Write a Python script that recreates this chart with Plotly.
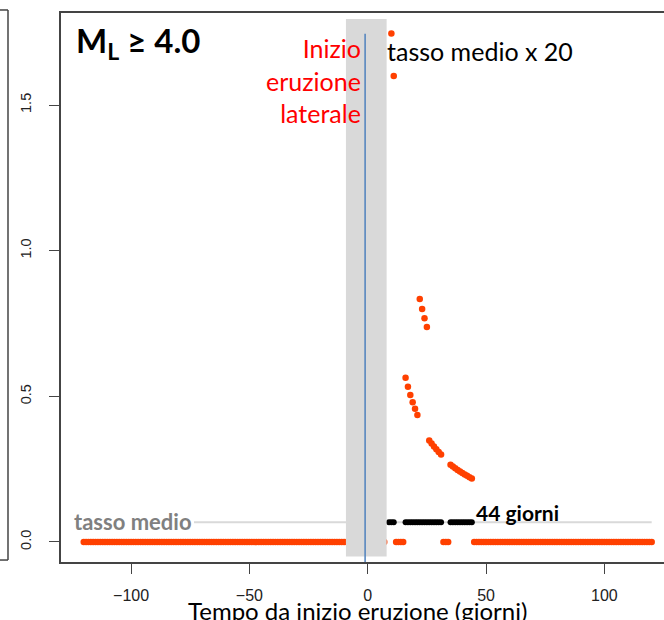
import numpy as np
import plotly.graph_objects as go

# Giorni rispetto all'inizio dell'eruzione laterale
days_all = list(range(-120, 121))

# Giorni con tasso elevato (sopra il tasso medio) e relativo tasso x 20
elev_days = [10, 11,
             16, 17, 18, 19, 20, 21,
             22, 23, 24, 25,
             26, 27, 28, 29, 30, 31,
             35, 36, 37, 38, 39, 40, 41, 42, 43, 44]
elev_rate = [1.746, 1.600,
             0.564, 0.533, 0.505, 0.480, 0.457, 0.436,
             0.834, 0.800, 0.768, 0.738,
             0.348, 0.338, 0.328, 0.318, 0.309, 0.300,
             0.265, 0.259, 0.253, 0.247, 0.242, 0.237, 0.232, 0.227, 0.222, 0.218]

# Giorni marcati in nero sulla linea del tasso medio
black_days = [9, 10, 11] + list(range(16, 32)) + list(range(35, 45))

# Giorni senza eventi (tasso nullo)
hidden_days = [8, 9]
zero_days = [d for d in days_all if d not in elev_days and d not in hidden_days]
zero_rate = [0.0] * len(zero_days)

mean_rate = 0.0676

# Assi
x_ticks = [-100, -50, 0, 50, 100]
y_ticks = [0.0, 0.5, 1.0, 1.5]
x_range = [-129.6, 125.2]
y_range = [-0.0687, 1.816]

RED = "#ff4000"
AXIS = "#444444"

fig = go.Figure()

# linea del tasso medio
fig.add_trace(go.Scatter(
    x=[-73.4, 120], y=[mean_rate, mean_rate], mode="lines",
    line=dict(color="#d9d9d9", width=2), hoverinfo="skip", showlegend=False))

# tasso nullo
fig.add_trace(go.Scatter(
    x=zero_days, y=zero_rate, mode="markers",
    marker=dict(color=RED, size=6.5, line=dict(width=0)), showlegend=False))

# tasso elevato x 20
fig.add_trace(go.Scatter(
    x=elev_days, y=elev_rate, mode="markers",
    marker=dict(color=RED, size=6.5, line=dict(width=0)), showlegend=False))

# periodo sopra il tasso medio
fig.add_trace(go.Scatter(
    x=black_days, y=[mean_rate] * len(black_days), mode="markers",
    marker=dict(color="black", size=6, line=dict(width=0)), showlegend=False))

shapes = [
    # fascia grigia attorno all'inizio eruzione
    dict(type="rect", xref="x", yref="y", x0=-9.2, x1=8.0, y0=-0.05, y1=1.795,
         fillcolor="#d9d9d9", line=dict(width=0), layer="above"),
    # inizio eruzione laterale
    dict(type="line", xref="x", yref="y", x0=-1.1, x1=-1.1, y0=y_range[0], y1=1.745,
         line=dict(color="#4f81bd", width=1.5), layer="above"),
    # bordo del pannello adiacente
    dict(type="line", xref="paper", yref="paper", x0=-0.0879, x1=-0.0879, y0=0.0036, y1=1.0055,
         line=dict(color=AXIS, width=1.5)),
    dict(type="line", xref="paper", yref="paper", x0=-0.11, x1=-0.0879, y0=1.0055, y1=1.0055,
         line=dict(color=AXIS, width=1.5)),
    dict(type="line", xref="paper", yref="paper", x0=-0.11, x1=-0.0879, y0=0.0036, y1=0.0036,
         line=dict(color=AXIS, width=1.5)),
]

FONT = "Lato"
annotations = [
    dict(x=-124.0, y=1.716, xref="x", yref="y", xanchor="left", yanchor="middle",
         text="<b>M<sub>L</sub> ≥ 4.0</b>", showarrow=False,
         font=dict(family=FONT, size=33, color="black")),
    dict(x=-1.9, y=1.583, xref="x", yref="y", xanchor="right", yanchor="middle",
         align="right", text="Inizio<br>eruzione<br>laterale", showarrow=False,
         font=dict(family=FONT, size=25, color="#ff0000")),
    dict(x=7.2, y=1.686, xref="x", yref="y", xanchor="left", yanchor="middle",
         text="tasso medio x 20", showarrow=False,
         font=dict(family=FONT, size=25, color="black")),
    dict(x=44.8, y=0.0996, xref="x", yref="y", xanchor="left", yanchor="middle",
         text="<b>44 giorni</b>", showarrow=False,
         font=dict(family=FONT, size=21, color="black")),
    dict(x=-125.0, y=0.0687, xref="x", yref="y", xanchor="left", yanchor="middle",
         text="<b>tasso medio</b>", showarrow=False,
         font=dict(family=FONT, size=22, color="#808080")),
    dict(x=0.491, y=-0.088, xref="paper", yref="paper", xanchor="center", yanchor="middle",
         text="Tempo da inizio eruzione (giorni)", showarrow=False,
         font=dict(family=FONT, size=24, color="black")),
]

fig.update_layout(
    width=664, height=620,
    margin=dict(l=61, r=0, t=13, b=58),
    paper_bgcolor="white", plot_bgcolor="white",
    shapes=shapes, annotations=annotations,
    showlegend=False,
)
fig.update_xaxes(
    range=x_range, tickvals=x_ticks, ticktext=[str(v).replace("-", "−") for v in x_ticks],
    showgrid=False, zeroline=False, showline=True, mirror=True,
    linecolor=AXIS, linewidth=1.5, ticks="outside", ticklen=10, tickwidth=1.3,
    tickcolor=AXIS, ticklabelstandoff=8,
    tickfont=dict(family="Liberation Sans", size=16, color="#222222"),
)
fig.update_yaxes(
    range=y_range, tickvals=y_ticks, ticktext=[f"{v:.1f}" for v in y_ticks],
    showgrid=False, zeroline=False, showline=True, mirror=False,
    linecolor=AXIS, linewidth=1.5, ticks="outside", ticklen=10, tickwidth=1.3,
    tickcolor=AXIS, tickangle=-90, ticklabelstandoff=12,
    tickfont=dict(family="Liberation Sans", size=14.5, color="#222222"),
)

fig.write_html("out.html")
